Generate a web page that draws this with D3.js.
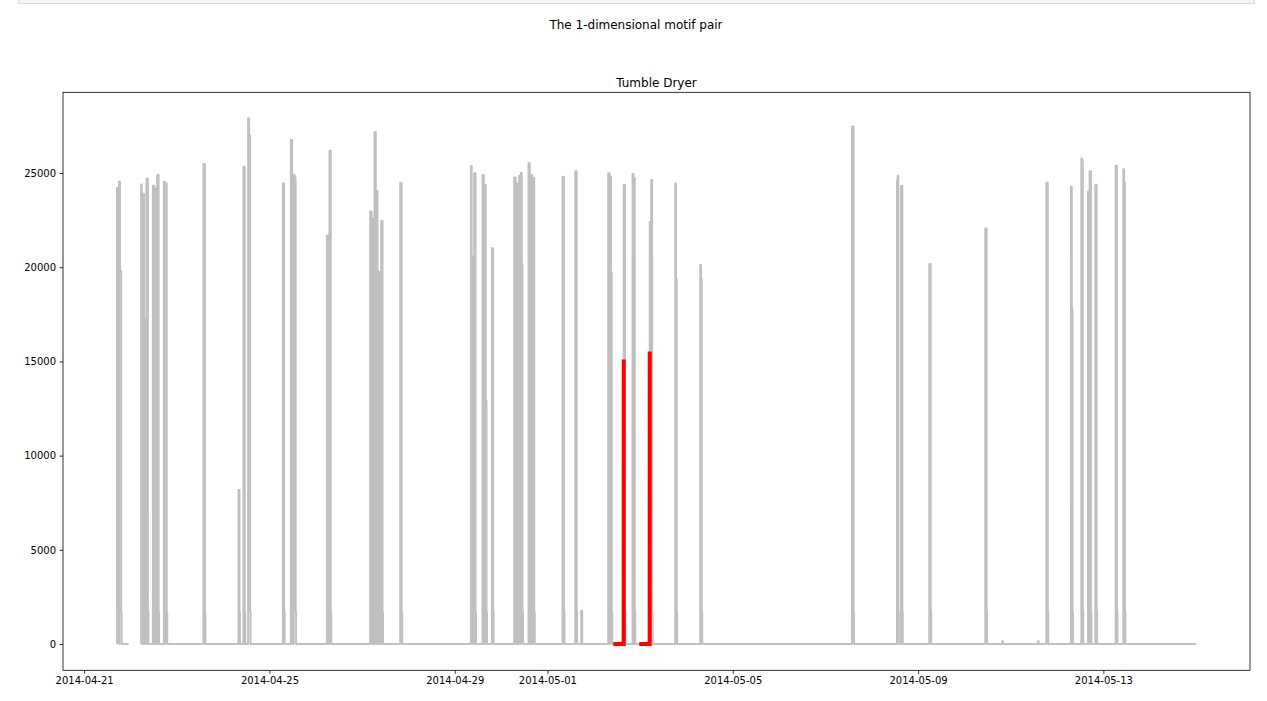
<!DOCTYPE html>
<html><head><meta charset="utf-8">
<script src="https://cdn.jsdelivr.net/npm/d3@7"></script>
<style>
body{margin:0;background:#fff}
svg{display:block;font-family:"DejaVu Sans",sans-serif}
</style>
</head><body>
<svg id="c" width="1267" height="701"></svg>
<script>
// ---------- data ----------
const figTitle = "The 1-dimensional motif pair";
const axTitle = "Tumble Dryer";
const seriesStart = "2014-04-21 17:00";
const seriesEnd = "2014-05-15 00:00";
const gapStart = "2014-04-21 23:00";
const gapEnd = "2014-04-22 05:30";
const spikeStart = [
 "2014-04-21 17:00","2014-04-21 18:05","2014-04-22 05:32","2014-04-22 06:40","2014-04-22 08:17",
 "2014-04-22 11:36","2014-04-22 12:25","2014-04-22 13:49","2014-04-22 17:18","2014-04-22 18:07",
 "2014-04-23 13:49","2014-04-24 07:57","2014-04-24 10:32","2014-04-24 12:58","2014-04-25 06:57",
 "2014-04-25 11:06","2014-04-25 12:33","2014-04-26 05:45","2014-04-26 07:06","2014-04-27 04:11",
 "2014-04-27 05:13","2014-04-27 06:25","2014-04-27 07:18","2014-04-27 08:35","2014-04-27 09:54",
 "2014-04-27 19:44","2014-04-29 08:22","2014-04-29 10:04","2014-04-29 14:22","2014-04-29 15:46",
 "2014-04-29 19:14","2014-04-30 06:48","2014-04-30 08:12","2014-04-30 09:23","2014-04-30 10:16",
 "2014-04-30 14:12","2014-04-30 15:27","2014-04-30 16:29","2014-05-01 07:49","2014-05-01 14:24",
 "2014-05-01 17:31","2014-05-02 07:30","2014-05-02 08:32","2014-05-02 15:32","2014-05-02 20:06",
 "2014-05-02 20:45","2014-05-03 05:00","2014-05-03 05:45","2014-05-03 18:12","2014-05-04 07:10",
 "2014-05-07 13:46","2014-05-08 13:05","2014-05-08 15:10","2014-05-09 05:49","2014-05-10 10:50",
 "2014-05-10 19:38","2014-05-11 14:02","2014-05-11 18:26","2014-05-12 07:14","2014-05-12 12:35",
 "2014-05-12 16:03","2014-05-12 16:53","2014-05-12 19:50","2014-05-13 06:22","2014-05-13 10:20"
];
const spikePeak = [
 24200,24550,24385,23900,24700, 24330,24200,24900,24520,24450,
 25480,8170,25330,27890,24440, 26750,24900,21670,26180,22960,
 22580,27180,24045,19750,22470, 24476,25370,24990,24890,24380,
 21010,24760,24440,24850,25000, 25520,24900,24740,24800,25090,
 1770,24990,24820,24380,24950, 24740,22400,24630,24440,20120,
 27470,24580,24330,20170,22050, 150,150,24480,24290,25770,
 24000,25090,24380,25390,25200
];
const spikeStep = [
 12000,19800,2600,17300,0, 0,0,0,0,0,
 0,0,0,27000,0, 0,24750,0,0,0,
 0,0,0,0,0, 0,20600,0,0,12900,
 0,0,0,0,20170, 0,0,0,0,0,
 0,0,19750,0,0, 0,19780,0,19370,19370,
 0,24860,0,0,0, 0,0,0,17800,25650,
 0,0,0,0,24480
];
const spikeMinutes = [
 60,65,40,40,45, 40,40,45,40,40,
 45,30,40,60,40, 40,60,40,40,40,
 40,40,40,40,40, 45,45,40,40,40,
 40,40,40,40,50, 40,40,40,45,45,
 30,40,45,40,30, 30,30,30,45,45,
 50,40,40,45,40, 20,20,45,45,45,
 30,40,40,40,50
];
const tailLevel = 1700;
const tailMinutes = 15;
const motifStart = ["2014-05-02 10:06","2014-05-02 23:34"];
const motifEnd = ["2014-05-02 15:32","2014-05-03 05:00"];
const motifEndValue = [15100, 15530];
const xTickLabels = ["2014-04-21","2014-04-25","2014-04-29","2014-05-01","2014-05-05","2014-05-09","2014-05-13"];
const yTickValues = [0,5000,10000,15000,20000,25000];

// ---------- build ----------
const parse = d3.utcParse("%Y-%m-%d %H:%M");
const parseDay = d3.utcParse("%Y-%m-%d");
const MIN = 60000;
const pts = [{t: parse(seriesStart), v: 0}];
const gS = parse(gapStart), gE = parse(gapEnd);
let gapDone = false;
spikeStart.forEach((s, i) => {
  const t0 = parse(s);
  if (!gapDone && t0 > gE) {
    pts.push({t: gS, v: 0}, {t: gS, v: NaN}, {t: gE, v: 0});
    gapDone = true;
  }
  const t1 = new Date(+t0 + spikeMinutes[i] * MIN);
  pts.push({t: t0, v: 0}, {t: t0, v: spikePeak[i]});
  if (spikeStep[i]) {
    const tm = new Date(+t0 + spikeMinutes[i] * MIN / 2);
    pts.push({t: tm, v: spikePeak[i]}, {t: tm, v: spikeStep[i]}, {t: t1, v: spikeStep[i]});
  } else {
    pts.push({t: t1, v: spikePeak[i]});
  }
  if (spikePeak[i] > 5000) {
    const t2 = new Date(+t1 + tailMinutes * MIN);
    pts.push({t: t1, v: tailLevel}, {t: t2, v: tailLevel}, {t: t2, v: 0});
  } else {
    pts.push({t: t1, v: 0});
  }
});
pts.push({t: parse(seriesEnd), v: 0});

const motifs = motifStart.map((s, i) => {
  const a = parse(s), b = parse(motifEnd[i]);
  return [{t: a, v: 0}, {t: new Date(+b - 2 * MIN), v: 0}, {t: b, v: motifEndValue[i]}];
});

// ---------- layout ----------
const svg = d3.select("#c");
const L = 63, R = 1250, T = 92.3, B = 670.3;

// notebook cell remnant at top
svg.append("rect").attr("x", 18.5).attr("y", -6).attr("width", 1236).attr("height", 9.5)
  .attr("fill", "#f5f5f5").attr("stroke", "#dcdcdc");

const tExt = d3.extent(pts, d => +d.t);
const tPad = (tExt[1] - tExt[0]) * 0.05;
const x = d3.scaleUtc().domain([new Date(tExt[0] - tPad), new Date(tExt[1] + tPad)]).range([L, R]);
const vMax = d3.max(pts, d => d.v), vMin = 0;
const vPad = (vMax - vMin) * 0.05;
const y = d3.scaleLinear().domain([vMin - vPad, vMax + vPad]).range([B, T]);

const line = d3.line().defined(d => !isNaN(d.v)).x(d => x(d.t)).y(d => y(d.v));

svg.append("clipPath").attr("id", "clip").append("rect")
  .attr("x", L).attr("y", T).attr("width", R - L).attr("height", B - T);

const plot = svg.append("g").attr("clip-path", "url(#clip)");
plot.append("path").datum(pts).attr("d", line)
  .attr("fill", "none").attr("stroke", "#c0c0c0").attr("stroke-width", 2)
  .attr("stroke-linejoin", "round");
motifs.forEach(m => {
  plot.append("path").datum(m).attr("d", line)
    .attr("fill", "none").attr("stroke", "#ff0000").attr("stroke-width", 4)
    .attr("stroke-linejoin", "miter").attr("stroke-linecap", "butt");
});

// axes
const xAxis = d3.axisBottom(x).tickValues(xTickLabels.map(parseDay))
  .tickFormat(d3.utcFormat("%Y-%m-%d")).tickSizeOuter(0).tickSize(3.5).tickPadding(3.5);
const yAxis = d3.axisLeft(y).tickValues(yTickValues).tickFormat(d3.format("d"))
  .tickSizeOuter(0).tickSize(3.5).tickPadding(3.5);
const gx = svg.append("g").attr("transform", `translate(0,${B})`).call(xAxis);
const gy = svg.append("g").attr("transform", `translate(${L},0)`).call(yAxis);
[gx, gy].forEach(g => {
  g.select(".domain").remove();
  g.selectAll("text").attr("font-size", 10).attr("fill", "#000").attr("font-family", "DejaVu Sans");
  g.selectAll("line").attr("stroke", "#000").attr("stroke-width", 0.8);
});

// frame
svg.append("rect").attr("x", L).attr("y", T).attr("width", R - L).attr("height", B - T)
  .attr("fill", "none").attr("stroke", "#000").attr("stroke-width", 0.8);

// titles
svg.append("text").attr("x", (L + R) / 2).attr("y", 87).attr("text-anchor", "middle")
  .attr("font-size", 12).attr("fill", "#000").text(axTitle);
svg.append("text").attr("x", 636).attr("y", 29).attr("text-anchor", "middle")
  .attr("font-size", 12).attr("fill", "#000").text(figTitle);
</script>
</body></html>
